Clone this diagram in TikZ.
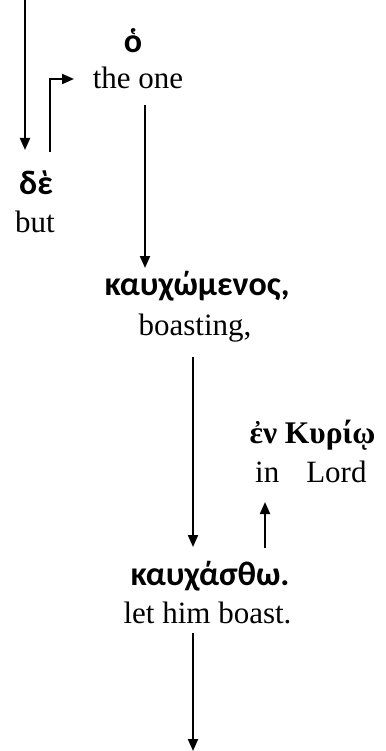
\documentclass[tikz,border=0pt]{standalone}
\usepackage{fontspec}
\setmainfont{Liberation Serif}
\newfontfamily\grk{Carlito}
\newfontfamily\grks{Liberation Serif}
\usetikzlibrary{arrows.meta}
\tikzset{
  gr/.style={anchor=base,inner sep=0pt,font=\fontsize{34}{37}\selectfont\grk\bfseries},
  grs/.style={anchor=base,inner sep=0pt,font=\fontsize{31.5}{34}\selectfont\grks\bfseries},
  en/.style={anchor=base,inner sep=0pt,font=\fontsize{31}{34}\selectfont},
  conn/.style={line width=2pt,-{Triangle[length=12pt,width=10pt]}}
}
\begin{document}
\begin{tikzpicture}[x=1pt,y=-1pt]
\useasboundingbox (0,0) rectangle (385,751);
% nodes
\node[gr] (g1) at (133,53) {ὁ};
\node[en] (e1) at (138,89) {the one};
\node[gr] (g2) at (36,195) {δὲ};
\node[en] (e2) at (35,233) {but};
\node[gr] (g3) at (197,295) {καυχώμενος,};
\node[en] (e3) at (195,335) {boasting,};
\node[grs] (g4) at (312.5,443) {ἐν Κυρίῳ};
\node[en,anchor=base west] (e4) at (255,482) {in\hspace{27pt}Lord};
\node[gr] (g5) at (210,585) {καυχάσθω.};
\node[en] (e5) at (207.5,623) {let him boast.};
% coordinates
\coordinate (top) at (25,0);
\coordinate (a1) at (25,150);
\coordinate (b0) at (50,152);
\coordinate (b1) at (50,79);
\coordinate (b2) at (74,79);
\coordinate (c0) at (145,105);
\coordinate (c1) at (145,268);
\coordinate (d0) at (193,357);
\coordinate (d1) at (193,547);
\coordinate (f0) at (265,548);
\coordinate (f1) at (265,502);
\coordinate (h0) at (193,633);
\coordinate (h1) at (193,751);
% connectors
\draw[conn] (top) -- (a1);
\draw[conn] (b0) -- (b1) -- (b2);
\draw[conn] (c0) -- (c1);
\draw[conn] (d0) -- (d1);
\draw[conn] (f0) -- (f1);
\draw[conn] (h0) -- (h1);
\end{tikzpicture}
\end{document}
